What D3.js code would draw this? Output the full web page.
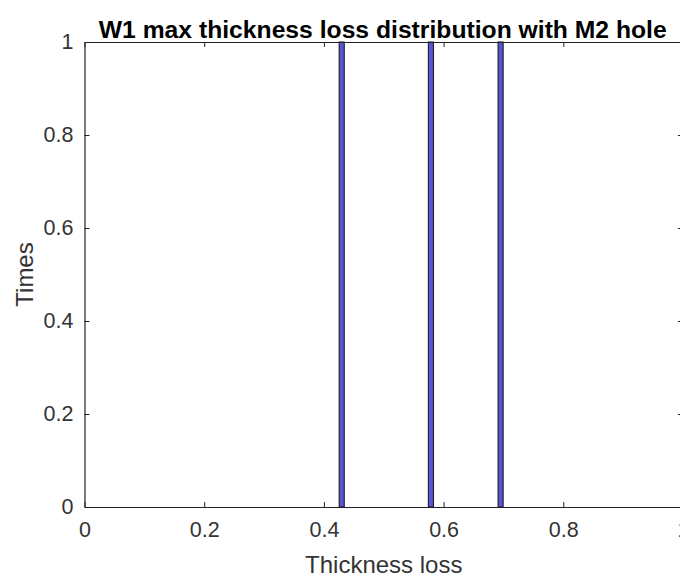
<!DOCTYPE html>
<html><head><meta charset="utf-8">
<script src="https://cdn.jsdelivr.net/npm/d3@7"></script>
<style>body{margin:0;background:#fff;}svg{display:block;}</style>
</head><body>
<svg id="c" width="680" height="581"></svg>
<script>
const binLefts = [0.4255, 0.5745, 0.691];
const binWidth = 0.0085;
const counts = [1, 1, 1];
const xTicks = [0, 0.2, 0.4, 0.6, 0.8, 1];
const yTicks = [0, 0.2, 0.4, 0.6, 0.8, 1];
const titleText = "W1 max thickness loss distribution with M2 hole";
const xLabel = "Thickness loss";
const yLabel = "Times";

const svg = d3.select("#c");
const m = {l: 84.5, r: 683, t: 42, b: 507};
const x = d3.scaleLinear().domain([0, 1]).range([m.l, m.r]);
const y = d3.scaleLinear().domain([0, 1]).range([m.b, m.t]);
const font = "'Liberation Sans', Arial, sans-serif";

svg.append("g").selectAll("rect").data(binLefts).join("rect")
  .attr("x", d => x(d)).attr("width", d => x(d + binWidth) - x(d))
  .attr("y", (d, i) => y(counts[i])).attr("height", (d, i) => y(0) - y(counts[i]))
  .attr("fill", "#5656d6").attr("stroke", "#111").attr("stroke-width", 1);

const tickCol = "#333";
const xb = svg.append("g").attr("transform", `translate(0,${m.b})`)
  .call(d3.axisBottom(x).tickValues(xTicks).tickSizeInner(-5).tickSizeOuter(0).tickPadding(15).tickFormat(d3.format("~g")));
const xt = svg.append("g").attr("transform", `translate(0,${m.t})`)
  .call(d3.axisTop(x).tickValues(xTicks).tickSizeInner(-5).tickSizeOuter(0).tickFormat(""));
const yl = svg.append("g").attr("transform", `translate(${m.l},0)`)
  .call(d3.axisLeft(y).tickValues(yTicks).tickSizeInner(-5).tickSizeOuter(0).tickPadding(11).tickFormat(d3.format("~g")));
const yr = svg.append("g").attr("transform", `translate(${m.r},0)`)
  .call(d3.axisRight(y).tickValues(yTicks).tickSizeInner(-5).tickSizeOuter(0).tickFormat(""));
[xb, xt, yl, yr].forEach(g => {
  g.select(".domain").attr("stroke", "#222").attr("stroke-width", 1.2);
  g.selectAll(".tick line").attr("stroke", "#222");
  g.selectAll("text").attr("font-family", font).attr("font-size", 21.5).attr("fill", tickCol);
});

svg.append("text").attr("x", (m.l + m.r) / 2 - 1).attr("y", 38).attr("text-anchor", "middle")
  .attr("font-family", font).attr("font-weight", "bold").attr("font-size", 24.7).attr("fill", "#000").text(titleText);
svg.append("text").attr("x", (m.l + m.r) / 2).attr("y", 573).attr("text-anchor", "middle")
  .attr("font-family", font).attr("font-size", 24).attr("fill", tickCol).text(xLabel);
svg.append("text").attr("transform", `translate(33,${(m.t + m.b) / 2}) rotate(-90)`).attr("text-anchor", "middle")
  .attr("font-family", font).attr("font-size", 24).attr("fill", tickCol).text(yLabel);
</script>
</body></html>
